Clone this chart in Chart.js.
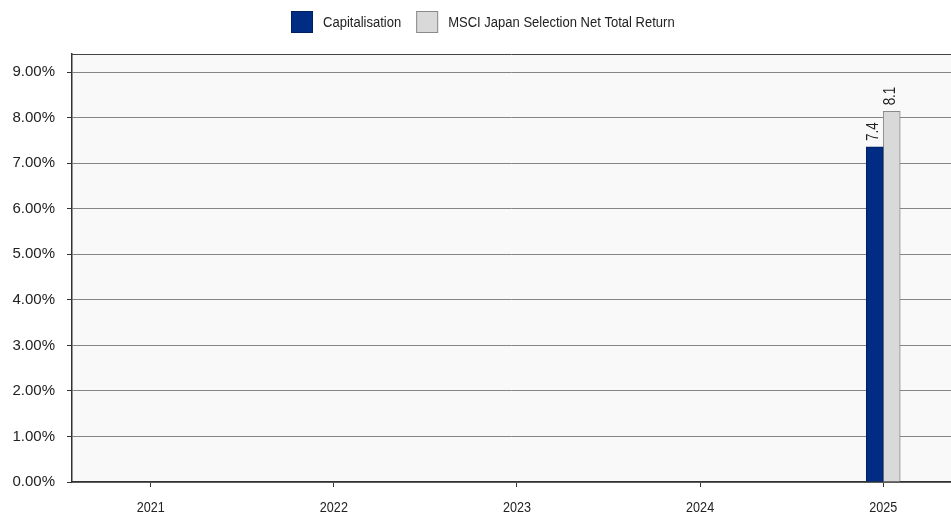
<!DOCTYPE html>
<html>
<head>
<meta charset="utf-8">
<script src="https://cdn.jsdelivr.net/npm/chart.js@4/dist/chart.umd.min.js"></script>
<style>
html,body{margin:0;padding:0;background:#fff;}
#wrap{width:951px;height:515px;}
</style>
</head>
<body>
<div id="wrap"><canvas id="c" width="951" height="515"></canvas></div>
<script>
const years = [2021, 2022, 2023, 2024, 2025];
const capitalisation = [0, 0, 0, 0, 7.36];
const msciJapan = [0, 0, 0, 0, 8.14];
const seriesNames = ['Capitalisation', 'MSCI Japan Selection Net Total Return'];
const yTicks = [0, 1, 2, 3, 4, 5, 6, 7, 8, 9];

const REG = '"Liberation Sans", Arial, sans-serif';
const NARROW_SCALE = 0.84;

const colors = [
  {bg: '#002c84', border: '#001f5e'},
  {bg: '#d9d9d9', border: '#8a8a8a'}
];

function narrowText(ctx, text, x, y, align) {
  // draws text horizontally condensed (Arial Narrow look)
  ctx.save();
  ctx.translate(x, y);
  ctx.scale(NARROW_SCALE, 1);
  ctx.textAlign = align;
  ctx.fillText(text, 0, 0);
  ctx.restore();
}

const bgPlugin = {
  id: 'plotbg',
  beforeDraw(chart) {
    const {ctx, chartArea: a} = chart;
    ctx.save();
    ctx.fillStyle = '#f9f9f9';
    ctx.fillRect(a.left, a.top, a.right - a.left, a.bottom - a.top);
    ctx.restore();
  },
  afterDraw(chart) {
    const {ctx, chartArea: a} = chart;
    ctx.save();
    ctx.strokeStyle = '#444';
    ctx.lineWidth = 1;
    ctx.beginPath();
    ctx.moveTo(a.left, a.top + 0.5);
    ctx.lineTo(a.right, a.top + 0.5);
    ctx.stroke();
    // x tick labels
    const xs = chart.scales.x;
    ctx.font = '15px ' + REG;
    ctx.fillStyle = '#222';
    ctx.textBaseline = 'middle';
    years.forEach(yr => {
      narrowText(ctx, String(yr), xs.getPixelForValue(yr), 507.5, 'center');
    });
    // legend
    ctx.font = '15.5px ' + REG;
    ctx.textBaseline = 'middle';
    const box = 22, gapText = 10, gapItem = 15;
    const widths = seriesNames.map(n => ctx.measureText(n).width * NARROW_SCALE);
    const total = box * 2 + gapText * 2 + widths[0] + widths[1] + gapItem;
    let x = Math.round(482.5 - total / 2);
    const y = 11;
    seriesNames.forEach((n, i) => {
      ctx.fillStyle = colors[i].bg;
      ctx.fillRect(x, y, box, box);
      ctx.strokeStyle = colors[i].border;
      ctx.strokeRect(x + 0.5, y + 0.5, box - 1, box - 1);
      ctx.fillStyle = '#222';
      narrowText(ctx, n, x + box + gapText, y + box / 2 + 0.5, 'left');
      x += box + gapText + widths[i] + gapItem;
    });
    ctx.restore();
  }
};

const labelPlugin = {
  id: 'vlabels',
  afterDatasetsDraw(chart) {
    const {ctx} = chart;
    ctx.save();
    ctx.font = '16px ' + REG;
    ctx.fillStyle = '#222';
    chart.data.datasets.forEach((ds, di) => {
      const meta = chart.getDatasetMeta(di);
      meta.data.forEach((el, i) => {
        const v = ds.data[i].y;
        if (!v) return;
        ctx.save();
        ctx.translate(el.x - 1, el.y - 6);
        ctx.rotate(-Math.PI / 2);
        ctx.scale(NARROW_SCALE, 1);
        ctx.textAlign = 'left';
        ctx.textBaseline = 'middle';
        ctx.fillText(v.toFixed(1), 0, 0);
        ctx.restore();
      });
    });
    ctx.restore();
  }
};

const seriesValues = [capitalisation, msciJapan];

new Chart(document.getElementById('c'), {
  type: 'bar',
  data: {
    datasets: seriesNames.map((name, di) => ({
      label: name,
      data: years.map((yr, i) => ({x: yr, y: seriesValues[di][i]})),
      backgroundColor: colors[di].bg,
      borderColor: colors[di].border,
      borderWidth: 1,
      borderSkipped: 'start',
      barThickness: 17
    }))
  },
  options: {
    responsive: false,
    animation: false,
    layout: {padding: {top: 54, right: 0, left: 0, bottom: 0}},
    plugins: {legend: {display: false}, tooltip: {enabled: false}},
    scales: {
      x: {
        type: 'linear',
        offset: false,
        min: 2020.57,
        max: 2025.37,
        afterBuildTicks: s => { s.ticks = years.map(v => ({value: v})); },
        afterFit: s => { s.height = 33; },
        grid: {offset: false, drawOnChartArea: false, tickLength: 5, tickColor: '#333', lineWidth: 1},
        border: {color: '#333', width: 1.5},
        ticks: {display: false}
      },
      y: {
        min: 0,
        max: 9.4,
        afterBuildTicks: s => { s.ticks = yTicks.map(v => ({value: v})); },
        afterFit: s => { s.width = 72; },
        grid: {color: '#858585', tickColor: '#333', tickLength: 5, lineWidth: 1},
        border: {color: '#333', width: 1.5},
        ticks: {
          padding: 12,
          color: '#222',
          font: {family: REG, size: 15},
          callback: v => v.toFixed(2) + '%'
        }
      }
    }
  },
  plugins: [bgPlugin, labelPlugin]
});
</script>
</body>
</html>
